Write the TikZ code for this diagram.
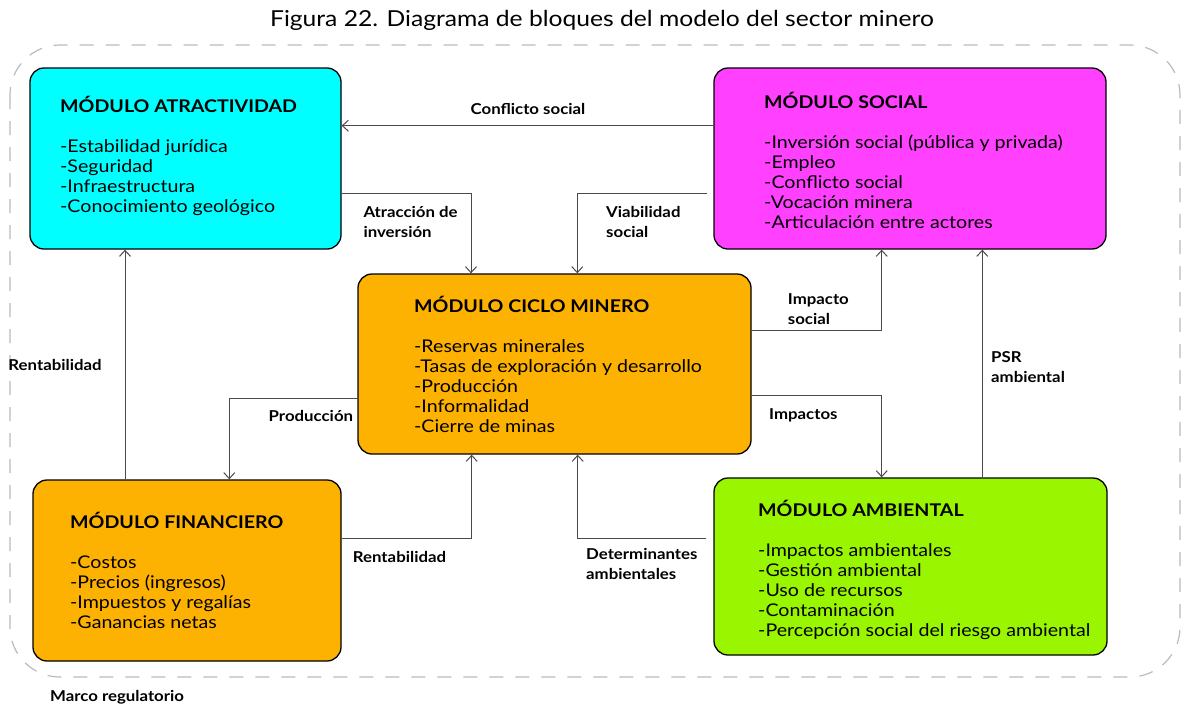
\documentclass[tikz,border=0pt]{standalone}
\usepackage{fontspec}
\setmainfont{Lato}[FakeStretch=1.12]
\usetikzlibrary{arrows.meta}
\definecolor{cyanbox}{HTML}{00FFFF}
\definecolor{magbox}{HTML}{FF40FF}
\definecolor{orabox}{HTML}{FDB100}
\definecolor{grebox}{HTML}{99F500}
\definecolor{linec}{HTML}{4A4A4A}
\definecolor{framec}{HTML}{BBBBBB}
\begin{document}
\begin{tikzpicture}[x=1pt,y=-1pt,
  box/.style={draw=black, line width=1.3pt, rounded corners=14pt, inner sep=0pt},
  boxtext/.style={anchor=west, align=left, inner sep=0pt, font=\fontsize{17.5}{20}\selectfont},
  lbl/.style={align=left, inner sep=0pt, font=\bfseries\fontsize{15}{20}\selectfont},
  conn/.style={draw=linec, line width=1pt, -{Straight Barb[length=6pt,width=11pt]}}]
\useasboundingbox (0,0) rectangle (1186,705);
\fill[white] (0,0) rectangle (1186,705);
\draw[framec, line width=1.2pt, dash pattern=on 14pt off 12pt, rounded corners=50pt] (10,45) rectangle (1180,677);
\node[inner sep=0pt, font=\fontsize{22}{26}\selectfont] (title) at (602,20) {Figura 22. Diagrama de bloques del modelo del sector minero};
% boxes
\node[box, fill=cyanbox, minimum width=311pt, minimum height=181pt] (atr) at (185.5,158.5) {};
\node[box, fill=magbox, minimum width=392pt, minimum height=181pt] (soc) at (910,158.5) {};
\node[box, fill=orabox, minimum width=393pt, minimum height=180pt] (cic) at (554.5,364) {};
\node[box, fill=orabox, minimum width=308pt, minimum height=181pt] (fin) at (187,570.5) {};
\node[box, fill=grebox, minimum width=393pt, minimum height=177pt] (amb) at (910.5,566.5) {};
% box texts
\node[boxtext] (atrt) at (60,156) {\textbf{MÓDULO ATRACTIVIDAD}\\[20pt]-Estabilidad jurídica\\-Seguridad\\-Infraestructura\\-Conocimiento geológico};
\node[boxtext] (soct) at (764,160.5) {\textbf{MÓDULO SOCIAL}\\[20pt]-Inversión social (pública y privada)\\-Empleo\\-Conflicto social\\-Vocación minera\\-Articulación entre actores};
\node[boxtext] (cict) at (414,364.5) {\textbf{MÓDULO CICLO MINERO}\\[20pt]-Reservas minerales\\-Tasas de exploración y desarrollo\\-Producción\\-Informalidad\\-Cierre de minas};
\node[boxtext] (fint) at (70,570) {\textbf{MÓDULO FINANCIERO}\\[20pt]-Costos\\-Precios (ingresos)\\-Impuestos y regalías\\-Ganancias netas};
\node[boxtext] (ambt) at (758,569.5) {\textbf{MÓDULO AMBIENTAL}\\[20pt]-Impactos ambientales\\-Gestión ambiental\\-Uso de recursos\\-Contaminación\\-Percepción social del riesgo ambiental};
% connector end points
\coordinate (c1) at ([yshift=32.8pt]soc.west);
\coordinate (c2) at ([yshift=-34.8pt]atr.east);
\coordinate (e2) at ([xshift=-83.5pt]cic.north);
\coordinate (c3) at ([xshift=-6pt,yshift=-34.8pt]soc.west);
\coordinate (e3) at ([xshift=22.8pt]cic.north);
\coordinate (c4) at ([yshift=33.7pt]cic.east);
\coordinate (e4) at ([xshift=-28.3pt]soc.south);
\coordinate (c5) at ([xshift=71.8pt]amb.north);
\coordinate (c6) at ([yshift=-31.3pt]cic.east);
\coordinate (e6) at ([xshift=-28.8pt]amb.north);
\coordinate (c7) at ([yshift=-34.3pt]cic.west);
\coordinate (e7) at ([xshift=42.3pt]fin.north);
\coordinate (c8) at ([xshift=-62pt]fin.north);
\coordinate (c9) at ([yshift=31.8pt]fin.east);
\coordinate (e9) at ([xshift=-82.8pt]cic.south);
\coordinate (c10) at ([xshift=-7pt,yshift=27.8pt]amb.west);
\coordinate (e10) at ([xshift=23.2pt]cic.south);
% connectors
\draw[conn] (c1) -- (c1 -| atr.east);
\draw[conn] (c2) -| (e2);
\draw[conn] (c3) -| (e3);
\draw[conn] (c4) -| (e4);
\draw[conn] (c5) -- (c5 |- soc.south);
\draw[conn] (c6) -| (e6);
\draw[conn] (c7) -| (e7);
\draw[conn] (c8) -- (c8 |- atr.south);
\draw[conn] (c9) -| (e9);
\draw[conn] (c10) -| (e10);
% labels
\node[lbl] (l1) at (528,109) {Conflicto social};
\node[lbl, anchor=west] (l2) at (363.3,221.7) {Atracción de\\inversión};
\node[lbl, anchor=west] (l3) at (606,221.7) {Viabilidad\\social};
\node[lbl, anchor=west] (l4) at (787.7,309) {Impacto\\social};
\node[lbl, anchor=west] (l5) at (991,367.5) {PSR\\ambiental};
\node[lbl, anchor=west] (l6) at (769,415.7) {Impactos};
\node[lbl, anchor=east] (l7) at (353.3,416) {Producción};
\node[lbl, anchor=west] (l8) at (8.3,365) {Rentabilidad};
\node[lbl, anchor=west] (l9) at (352.7,557) {Rentabilidad};
\node[lbl, anchor=west] (l10) at (586,563.5) {Determinantes\\ambientales};
\node[lbl, anchor=west] (l11) at (50,697) {Marco regulatorio};
\end{tikzpicture}
\end{document}
